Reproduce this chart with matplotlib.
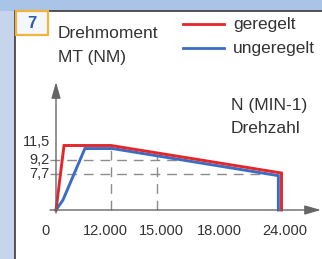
import numpy as np
import matplotlib
matplotlib.use("Agg")
from matplotlib import pyplot as plt  # noqa
from matplotlib.patches import Rectangle  # noqa

plt.rcParams['font.family'] = ['Liberation Sans', 'DejaVu Sans']

# data (rpm / Nm)
rpm_ticks = [0, 12000, 15000, 18000, 24000]
rpm_labels = ['0', '12.000', '15.000', '18.000', '24.000']
mt_ticks = [7.7, 9.2, 11.5]
mt_labels = ['7,7', '9,2', '11,5']

geregelt_rpm = [0, 1750, 12000, 24000, 24000]
geregelt_mt = [0, 11.5, 11.5, 7.8, 0]
ungeregelt_rpm = [0, 1500, 6300, 12100, 23700, 23700]
ungeregelt_mt = [0, 2.1, 11.0, 11.0, 7.35, 0]

# dashed guide lines: (level, end) and (rpm, top)
guide_h = [(9.2, 16300), (7.7, 22600)]
guide_v = [(12000, 11.0), (15000, 9.8)]

RED = '#e4262b'
BLUE = '#3a6dc3'
TXT = '#333333'
GRID = '#8c8c8c'


def piecewise(vals, pos):
    # schematic axis: values are not drawn to scale in the original
    v = np.asarray(vals, float)
    p = np.asarray(pos, float)

    def f(x, a, b):
        x = np.asarray(x, float)
        y = np.interp(x, a, b)
        y = np.where(x < a[0], b[0] + (x - a[0]) * (b[1] - b[0]) / (a[1] - a[0]), y)
        y = np.where(x > a[-1], b[-1] + (x - a[-1]) * (b[-1] - b[-2]) / (a[-1] - a[-2]), y)
        return y
    return (lambda x: f(x, v, p)), (lambda x: f(x, p, v))


xf, xi = piecewise(rpm_ticks, [0, 55, 101, 163, 225.5])
yf, yi = piecewise([0] + mt_ticks, [0, 36, 50.5, 64.5])

W, H = 322, 259
fig = plt.figure(figsize=(W / 100, H / 100), dpi=100)
fig.patch.set_facecolor('#c6d5ec')

# background / frame
bg = fig.add_axes([0, 0, 1, 1])
bg.set_xlim(0, W)
bg.set_ylim(H, 0)
bg.axis('off')
bg.add_patch(Rectangle((0, 0), W, 11, color='#a9c4e6', lw=0))
bg.add_patch(Rectangle((15, 11), W, H, facecolor='white', edgecolor='#3a3a3a', lw=1.2))
bg.add_patch(Rectangle((16.5, 10.5), 32, 24.5, facecolor='#f4f7fc', edgecolor='#f2b43a', lw=1.6))
bg.text(32, 23, '7', color='#2c5daa', fontsize=12, fontweight='bold', ha='center', va='center')
bg.text(58, 38, 'Drehmoment', color=TXT, fontsize=12.5)
bg.text(58, 62, 'MT (NM)', color=TXT, fontsize=12.5)
bg.plot([183, 224], [24, 24], color=RED, lw=2)
bg.plot([183, 224], [48, 48], color=BLUE, lw=2)
bg.text(233, 24, 'geregelt', color=TXT, fontsize=12.5, va='center')
bg.text(233, 48, 'ungeregelt', color=TXT, fontsize=12.5, va='center')
bg.text(231, 110, 'N (MIN-1)', color=TXT, fontsize=12.5)
bg.text(231, 133, 'Drehzahl', color=TXT, fontsize=12.5)

# chart, origin at pixel (56, 210)
x0, y0 = 56, 210
left, right, top, bottom = 40, 322, 75, 245
ax = fig.add_axes([left / W, (H - bottom) / H, (right - left) / W, (bottom - top) / H])
ax.patch.set_alpha(0)
ax.set_xscale('function', functions=(xf, xi))
ax.set_yscale('function', functions=(yf, yi))
ax.set_xlim(xi(left - x0), xi(right - x0))
ax.set_ylim(yi(y0 - bottom), yi(y0 - top))
ax.axis('off')

dash = dict(color=GRID, lw=1, dashes=(7, 5))
for lvl, end in guide_h:
    ax.plot([xi(-6), end], [lvl, lvl], **dash)
for r, t in guide_v:
    ax.plot([r, r], [0, t], **dash)

arrow = dict(arrowstyle='-|>,head_length=0.7,head_width=0.2', color='#666666',
             lw=1, shrinkA=0, shrinkB=0, mutation_scale=14)
ax.annotate('', xy=(xi(265), 0), xytext=(xi(-6), 0), arrowprops=arrow)
ax.annotate('', xy=(0, yi(128)), xytext=(0, yi(-3)), arrowprops=arrow)

ax.plot(ungeregelt_rpm, ungeregelt_mt, color=BLUE, lw=2.1, solid_joinstyle='miter')
ax.plot(geregelt_rpm, geregelt_mt, color=RED, lw=2.1, solid_joinstyle='miter')

x_shift = [-11, -6, 4, 0, 3]
for r, lab, dx in zip(rpm_ticks, rpm_labels, x_shift):
    ax.annotate(lab, xy=(r, 0), xytext=(dx * 0.72, -15), textcoords='offset points',
                ha='center', va='center', color=TXT, fontsize=10.5)
y_shift = [0, 0, 3]
for m, lab, dy in zip(mt_ticks, mt_labels, y_shift):
    ax.annotate(lab, xy=(0, m), xytext=(-4.5, dy * 0.72), textcoords='offset points',
                ha='right', va='center', color=TXT, fontsize=10.5)

fig.savefig('out.png', dpi=100, facecolor=fig.get_facecolor())
